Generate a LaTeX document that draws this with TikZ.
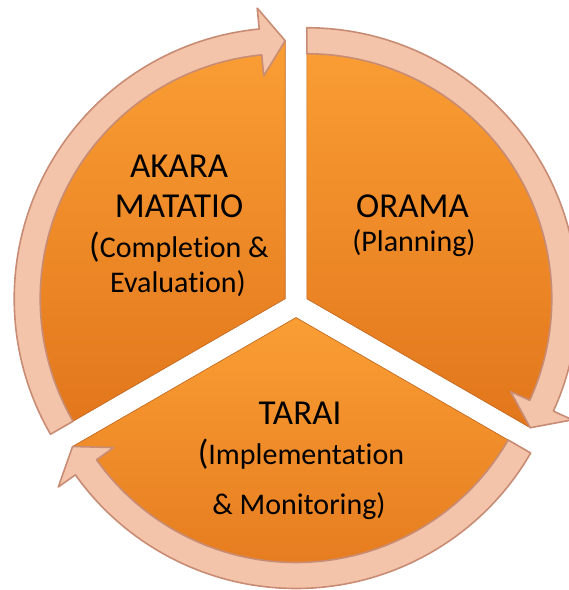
\documentclass[tikz,border=0pt]{standalone}
\usepackage{fontspec}
\setmainfont{Carlito}[Ligatures=NoCommon]
\usepackage{tikz}
\usetikzlibrary{calc}

\definecolor{sectorlight}{RGB}{250,158,52}
\definecolor{sectordark}{RGB}{226,118,28}
\definecolor{sectoredge}{RGB}{190,100,30}
\definecolor{ringfill}{RGB}{243,196,170}
\definecolor{ringedge}{RGB}{200,140,116}

\newcommand{\openbig}{{\fontsize{35}{40}\selectfont(}}

\tikzset{
  sector/.style = {top color=sectorlight, bottom color=sectordark, draw=sectoredge, line width=0.6pt},
  ring/.style = {fill=ringfill, draw=ringedge, line width=1.6pt, line join=round},
  title/.style = {anchor=base, inner sep=0pt, font=\fontsize{35}{40}\selectfont},
  subtitle/.style = {anchor=base, inner sep=0pt, font=\fontsize{30}{34}\selectfont}
}

\begin{document}
\begin{tikzpicture}[x=1pt, y=1pt]
	\def\Rm{258}
	\def\Ro{271}
	\def\Ri{245}
	\def\Rwo{292}
	\def\Rwi{224}
	\def\hd{5.5}

	\useasboundingbox (0,0) rectangle (569,590);

	% sectors, each with its arrow on the rim
	\foreach \cx/\cy/\sa/\ea in {306.8/291.25/90/-30, 296/272.5/-30/-150, 285.2/291.25/210/90}{
		\begin{scope}[shift={(\cx,\cy)}]
			\shade[sector] (0,0) -- (\sa:\Rm) arc[start angle=\sa, end angle=\ea, radius=\Rm] -- cycle;
			\filldraw[ring] (\sa:\Ro) arc[start angle=\sa, end angle=\ea+\hd, radius=\Ro]
				-- ({\ea+\hd}:\Rwo) -- (\ea:\Rm) -- ({\ea+\hd}:\Rwi) -- ({\ea+\hd}:\Ri)
				arc[start angle=\ea+\hd, end angle=\sa, radius=\Ri] -- cycle;
		\end{scope}
	}

	\begin{scope}
		\node[title] (akara) at (179,412) {AKARA};
		\node[title] (matatio) at (179,372) {MATATIO};
		\node[subtitle] (completion) at (179,332) {\openbig Completion \&};
		\node[subtitle] (evaluation) at (178,297) {Evaluation)};

		\node[title] (orama) at (412.5,372) {ORAMA};
		\node[subtitle] (planning) at (414,338) {(Planning)};

		\node[title] (tarai) at (300,165) {TARAI};
		\node[subtitle] (implementation) at (301,125) {\openbig Implementation};
		\node[subtitle] (monitoring) at (299,75) {\& Monitoring)};
	\end{scope}
\end{tikzpicture}
\end{document}
